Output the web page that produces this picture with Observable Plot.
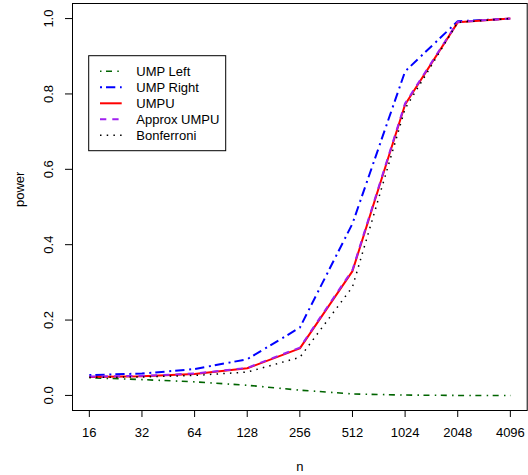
<!DOCTYPE html>
<html>
<head>
<meta charset="utf-8">
<script src="https://cdn.jsdelivr.net/npm/d3@7"></script>
<script src="https://cdn.jsdelivr.net/npm/@observablehq/plot@0.6"></script>
<style>
  html, body { margin: 0; padding: 0; background: #fff; }
  svg { display: block; }
</style>
</head>
<body>
<div id="chart"></div>
<script>
const nValues = [16, 32, 64, 128, 256, 512, 1024, 2048, 4096];
const umpLeft = [0.047, 0.042, 0.036, 0.027, 0.014, 0.004, 0.001, 0.000, 0.000];
const umpRight = [0.054, 0.058, 0.070, 0.096, 0.180, 0.456, 0.860, 0.993, 1.000];
const umpu = [0.049, 0.051, 0.057, 0.072, 0.125, 0.330, 0.772, 0.990, 1.000];
const approxUmpu = [0.050, 0.052, 0.058, 0.073, 0.127, 0.333, 0.775, 0.991, 1.000];
const bonferroni = [0.048, 0.049, 0.053, 0.062, 0.101, 0.288, 0.761, 0.990, 1.000];
const xTicks = [16, 32, 64, 128, 256, 512, 1024, 2048, 4096];
const yTicks = [0, 0.2, 0.4, 0.6, 0.8, 1.0];
const seriesNames = ["UMP Left", "UMP Right", "UMPU", "Approx UMPU", "Bonferroni"];

const styles = {
  "UMP Left":    {stroke: "#006400", width: 1.6, dash: "1.5,4.5,6,5.3"},
  "UMP Right":   {stroke: "#0000ff", width: 2,   dash: "2,4,9.3,4.7"},
  "UMPU":        {stroke: "#ff0000", width: 2,   dash: null},
  "Approx UMPU": {stroke: "#a020f0", width: 2,   dash: "6.3,6"},
  "Bonferroni":  {stroke: "#000000", width: 1.5, dash: "1.5,5.2"}
};

const seriesValues = [umpLeft, umpRight, umpu, approxUmpu, bonferroni];
const data = [];
seriesNames.forEach((name, i) => {
  nValues.forEach((n, j) => data.push({series: name, n, power: seriesValues[i][j]}));
});

const font = "'Liberation Sans', Arial, Helvetica, sans-serif";

const lineMarks = seriesNames.map(name => Plot.line(data.filter(d => d.series === name), {
  x: "n", y: "power",
  stroke: styles[name].stroke,
  strokeWidth: styles[name].width,
  strokeDasharray: styles[name].dash,
  strokeLinecap: "butt",
  strokeLinejoin: "round"
}));

const chart = Plot.plot({
  width: 528,
  height: 475,
  marginLeft: 72,
  marginRight: 1.3,
  marginTop: 3,
  marginBottom: 65,
  style: {fontFamily: font, fontSize: "13px", background: "#fff", color: "#000", overflow: "visible"},
  x: {type: "log", base: 2, domain: [Math.pow(2, 3.68), Math.pow(2, 12.32)], axis: null},
  y: {domain: [-0.04, 1.04], axis: null},
  marks: [
    ...lineMarks,
    Plot.frame({stroke: "#000", strokeWidth: 1}),
    Plot.axisX({ticks: xTicks, tickFormat: d => String(d), tickSize: 7, tickPadding: 10, label: null, stroke: "#000", strokeOpacity: 1, fontSize: 13}),
    Plot.axisY({ticks: yTicks, tickFormat: () => "", tickSize: 7, label: null, stroke: "#000", strokeOpacity: 1}),
    Plot.text(yTicks, {y: d => d, text: d => d.toFixed(1), frameAnchor: "left", dx: -24, rotate: -90, fontSize: 13, textAnchor: "middle", lineAnchor: "middle", fill: "#000"}),
    Plot.text(["power"], {frameAnchor: "left", dx: -53, rotate: -90, fontSize: 13, lineAnchor: "middle", fill: "#000"}),
    Plot.text(["n"], {frameAnchor: "bottom", dy: 56, fontSize: 13, lineAnchor: "middle", fill: "#000"})
  ]
});

// legend (layout overlay inside the plot area)
const svg = d3.select(chart);
const lg = svg.append("g").attr("font-family", font).attr("font-size", 13).attr("text-anchor", "start");
lg.append("rect").attr("x", 88.7).attr("y", 55.7).attr("width", 137).attr("height", 95)
  .attr("fill", "#fff").attr("stroke", "#000").attr("stroke-width", 1);
seriesNames.forEach((name, i) => {
  const y = 71.3 + 16 * i;
  const s = styles[name];
  lg.append("line").attr("x1", 100).attr("x2", 121.7).attr("y1", y).attr("y2", y)
    .attr("stroke", s.stroke).attr("stroke-width", s.width)
    .attr("stroke-dasharray", s.dash).attr("stroke-linecap", "butt");
  lg.append("text").attr("x", 136.3).attr("y", y).attr("dy", "0.35em")
    .attr("text-anchor", "start").attr("fill", "#000").text(name);
});

document.getElementById("chart").appendChild(chart);
</script>
</body>
</html>
